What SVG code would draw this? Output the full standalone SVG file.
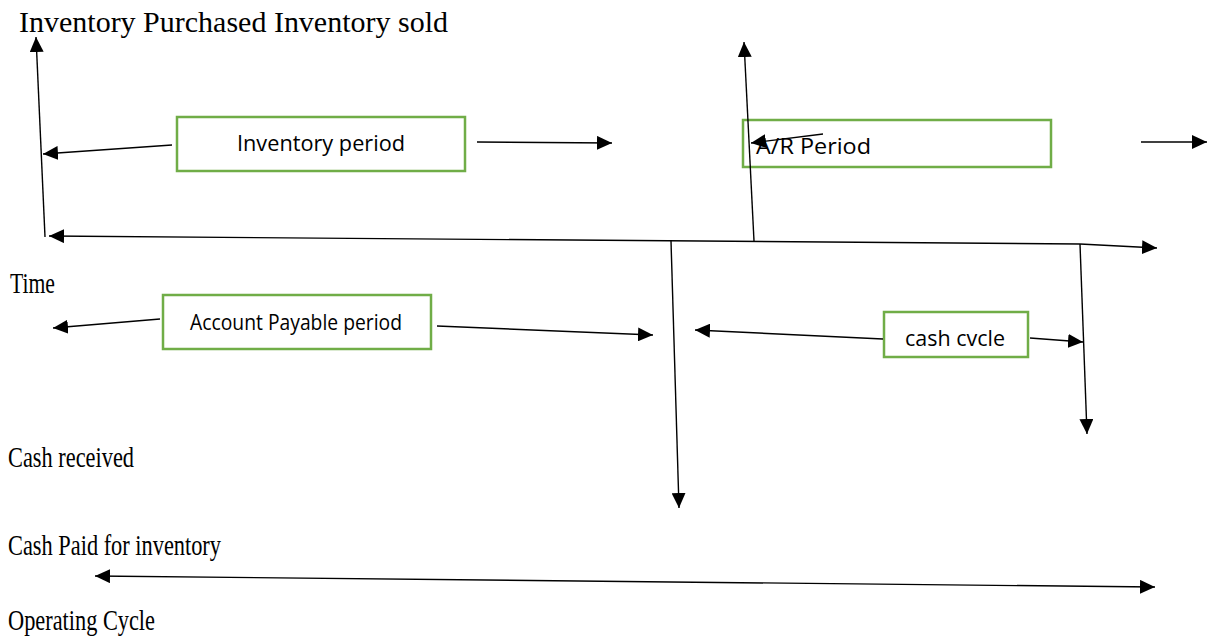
<svg xmlns="http://www.w3.org/2000/svg" width="1213" height="638" viewBox="0 0 1213 638">
<style>
.serif{font-family:"Liberation Serif","Times New Roman",serif;font-size:29px;fill:#000}
.sans{font-family:"Open Sans","Liberation Sans",sans-serif;font-size:21px;fill:#000}
.box{fill:#fff;stroke:#70AD47;stroke-width:2.5}
.ln{fill:none;stroke:#000;stroke-width:1.4}
</style>
<defs>
<marker id="ah" markerUnits="userSpaceOnUse" markerWidth="16" markerHeight="14" refX="15" refY="7" orient="auto-start-reverse">
<path d="M0,0 L15,7 L0,14 z" fill="#000"/>
</marker>
</defs>
<rect width="1213" height="638" fill="#fff"/>
<g id="labels">
<text class="serif" x="19" y="32" textLength="429" lengthAdjust="spacingAndGlyphs">Inventory Purchased Inventory sold</text>
<text class="serif" x="10" y="293" textLength="45" lengthAdjust="spacingAndGlyphs">Time</text>
<text class="serif" x="8" y="467" textLength="126" lengthAdjust="spacingAndGlyphs">Cash received</text>
<text class="serif" x="8" y="555" textLength="213" lengthAdjust="spacingAndGlyphs">Cash Paid for inventory</text>
<text class="serif" x="8" y="630" textLength="147" lengthAdjust="spacingAndGlyphs">Operating Cycle</text>
</g>
<g id="node-inventory-period">
<rect class="box" x="177" y="117" width="288" height="54"/>
<text class="sans" x="237" y="151" textLength="168" lengthAdjust="spacingAndGlyphs">Inventory period</text>
</g>
<g id="node-ar-period">
<rect class="box" x="743" y="120" width="308" height="47"/>
<text class="sans" x="756" y="154" textLength="115" lengthAdjust="spacingAndGlyphs">A/R Period</text>
</g>
<g id="node-ap-period">
<rect class="box" x="163" y="295" width="268" height="54"/>
<text class="sans" x="190" y="330" textLength="212" lengthAdjust="spacingAndGlyphs">Account Payable period</text>
</g>
<g id="node-cash-cycle">
<rect class="box" x="884" y="312" width="144" height="45"/>
<text class="sans" x="905" y="346" textLength="100" lengthAdjust="spacingAndGlyphs">cash cvcle</text>
</g>
<g id="connectors">
<line class="ln" x1="45" y1="237" x2="36" y2="37" marker-end="url(#ah)"/>
<line class="ln" x1="172" y1="145" x2="43" y2="154" marker-end="url(#ah)"/>
<line class="ln" x1="477" y1="142" x2="612" y2="143" marker-end="url(#ah)"/>
<line class="ln" x1="754" y1="241" x2="744" y2="42" marker-end="url(#ah)"/>
<line class="ln" x1="823" y1="134" x2="751" y2="143" marker-end="url(#ah)"/>
<line class="ln" x1="1141" y1="142" x2="1207" y2="142" marker-end="url(#ah)"/>
<line class="ln" x1="1080" y1="244" x2="49" y2="236" marker-end="url(#ah)"/>
<line class="ln" x1="1080" y1="244" x2="1157" y2="248" marker-end="url(#ah)"/>
<line class="ln" x1="160" y1="319" x2="53" y2="328" marker-end="url(#ah)"/>
<line class="ln" x1="437" y1="326" x2="653" y2="335" marker-end="url(#ah)"/>
<line class="ln" x1="671" y1="241" x2="679" y2="508" marker-end="url(#ah)"/>
<line class="ln" x1="883" y1="339" x2="695" y2="330" marker-end="url(#ah)"/>
<line class="ln" x1="1030" y1="338" x2="1083" y2="342" marker-end="url(#ah)"/>
<line class="ln" x1="1080" y1="244" x2="1087" y2="434" marker-end="url(#ah)"/>
<line class="ln" x1="95" y1="576" x2="1155" y2="587" marker-start="url(#ah)" marker-end="url(#ah)"/>
</g>
</svg>
